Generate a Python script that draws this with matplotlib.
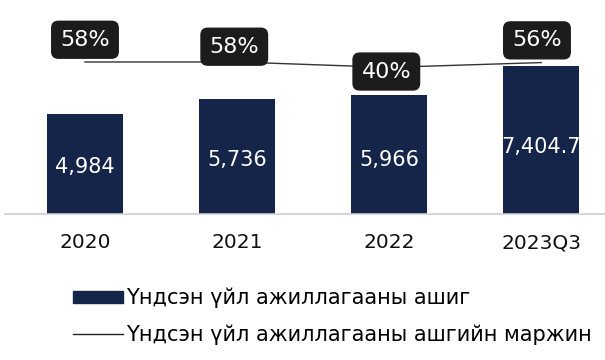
import matplotlib
matplotlib.use("Agg")
import matplotlib.pyplot as plt
from matplotlib.patches import Patch
from matplotlib.lines import Line2D

plt.rcParams['font.family'] = ['DejaVu Sans']

categories = ["2020", "2021", "2022", "2023Q3"]
profit = [4984, 5736, 5966, 7404.7]
profit_labels = ["4,984", "5,736", "5,966", "7,404.7"]
margin = [58, 58, 40, 56]
margin_labels = ["58%", "58%", "40%", "56%"]

bar_label_y = [2350, 2700, 2700, 3350]
label_offsets = [(0, 16), (-2, 11), (-2, -3), (-3, 16)]

bar_color = "#15254a"

fig = plt.figure(figsize=(6.05, 3.6), dpi=100)
ax = fig.add_axes([5/605, (360-214)/360, 600/605, 194/360])
x = list(range(len(categories)))
bars = ax.bar(x, profit, width=0.5, color=bar_color, zorder=2)
ax.set_xlim(-0.526, 3.42)
ax.set_ylim(0, 9706)
for s in ["top", "right", "left"]:
    ax.spines[s].set_visible(False)
ax.spines["bottom"].set_color("#d0d0d0")
ax.spines["bottom"].set_linewidth(1.2)
ax.set_yticks([])
ax.set_xticks(x)
ax.set_xticklabels(categories, fontsize=14.5, color="#111111")
ax.tick_params(axis="x", length=0, pad=14)

for xi, yl, lab, b in zip(x, bar_label_y, profit_labels, bars):
    t = ax.text(xi, yl, lab, ha="center", va="center",
                color="white", fontsize=15, zorder=3)
    t.set_clip_path(b)

ax2 = ax.twinx()
ax2.set_ylim(-449, 198)
ax2.set_xlim(ax.get_xlim())
ax2.axis("off")
ax2.plot(x, margin, color="#333333", linewidth=1.0, zorder=3)
for xi, m, lab, off in zip(x, margin, margin_labels, label_offsets):
    ax2.annotate(lab, (xi, m), xytext=off, textcoords="offset points",
                 ha="center", va="center", color="white", fontsize=16,
                 bbox=dict(boxstyle="round,pad=0.38,rounding_size=0.3",
                           fc="#1c1c1c", ec="#1c1c1c"), zorder=4)

handles = [Patch(facecolor=bar_color, edgecolor=bar_color),
           Line2D([0], [0], color="#222222", linewidth=1.0)]
labels = ["Үндсэн үйл ажиллагааны ашиг", "Үндсэн үйл ажиллагааны ашгийн маржин"]
fig.legend(handles, labels, loc="upper left", bbox_to_anchor=(73/605, 1 - 288/360),
           frameon=False, fontsize=15, handlelength=2.4, handleheight=0.5,
           handletextpad=0.15, labelspacing=0.75, borderpad=0, borderaxespad=0)

fig.savefig("out.png", dpi=100)
